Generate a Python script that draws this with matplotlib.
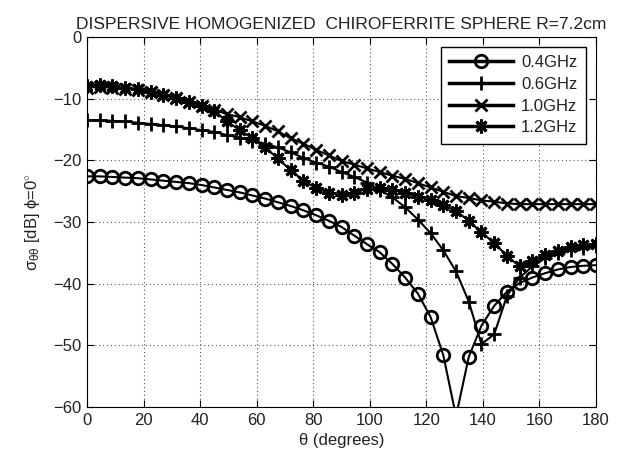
import matplotlib
matplotlib.use("Agg")
import matplotlib.pyplot as plt

theta = [0, 4.5, 9, 13.5, 18, 22.5, 27, 31.5, 36, 40.5, 45, 49.5, 54, 58.5, 63, 67.5,
         72, 76.5, 81, 85.5, 90, 94.5, 99, 103.5, 108, 112.5, 117, 121.5, 126, 130.5,
         135, 139.5, 144, 148.5, 153, 157.5, 162, 166.5, 171, 175.5, 180]

f04 = [-22.6, -22.6, -22.7, -22.8, -22.9, -23.1, -23.3, -23.5, -23.7, -24.0, -24.4,
       -24.8, -25.2, -25.7, -26.2, -26.8, -27.4, -28.1, -28.9, -29.8, -30.8, -32.2,
       -33.6, -34.9, -36.8, -39.0, -41.6, -45.4, -51.6, -61.5, -51.9, -46.8, -43.6,
       -41.3, -39.9, -39.0, -38.3, -37.7, -37.3, -37.1, -37.0]

f06 = [-13.5, -13.5, -13.6, -13.7, -13.9, -14.1, -14.3, -14.5, -14.8, -15.1, -15.4,
       -15.9, -16.3, -16.8, -17.3, -17.9, -18.7, -19.6, -20.4, -21.0, -21.9, -22.7,
       -23.6, -24.8, -26.0, -27.6, -29.6, -31.8, -34.6, -38.0, -42.9, -49.8, -48.2,
       -42.0, -39.0, -37.2, -35.9, -35.1, -34.6, -34.2, -33.9]

f10 = [-8.2, -8.1, -8.2, -8.4, -8.6, -8.9, -9.4, -9.9, -10.5, -11.2, -11.8,
       -12.5, -13.0, -13.7, -14.4, -15.3, -16.4, -17.3, -18.3, -19.2, -20.1, -20.7,
       -21.3, -21.9, -22.5, -23.0, -23.7, -24.4, -25.1, -25.8, -26.1, -26.5, -26.7,
       -27.0, -27.1, -27.1, -27.1, -27.1, -27.1, -27.1, -27.1]

f12 = [-7.9, -7.8, -8.0, -8.3, -8.5, -8.9, -9.4, -9.9, -10.5, -11.2, -12.0,
       -13.7, -15.1, -16.4, -17.9, -19.7, -21.6, -23.3, -24.5, -25.3, -25.6, -25.3,
       -24.6, -24.5, -24.8, -25.3, -25.9, -26.5, -27.3, -28.2, -29.8, -31.7, -33.4,
       -35.5, -37.2, -36.4, -35.4, -34.7, -34.1, -33.7, -33.5]

labels = ["0.4GHz", "0.6GHz", "1.0GHz", "1.2GHz"]
xticks = [0, 20, 40, 60, 80, 100, 120, 140, 160, 180]
yticks = [0, -10, -20, -30, -40, -50, -60]

plt.rcParams['font.family'] = ['Liberation Sans', 'DejaVu Sans']
plt.rcParams['mathtext.fontset'] = 'custom'
plt.rcParams['mathtext.rm'] = 'Liberation Sans'
plt.rcParams['mathtext.it'] = 'Liberation Sans'
plt.rcParams['mathtext.bf'] = 'Liberation Sans:bold'

TXT = '#222222'

fig = plt.figure(figsize=(6.21, 4.57), dpi=100)
ax = fig.add_axes([87/621, 1-407/457, 509/621, 370/457])

series = [f04, f06, f10, f12]
markers = ['o', '+', 'x', (8, 2, 0)]
msizes = [9, 10.5, 8.5, 10]
for vals, lab, m, ms in zip(series, labels, markers, msizes):
    kw = dict(markerfacecolor='none') if m == 'o' else {}
    ax.plot(theta, vals, color='black', lw=1.5, marker=m, ms=ms, mew=2.0,
            label=lab, **kw)

ax.set_xlim(0, 180)
ax.set_ylim(-60, 0)
ax.set_xticks(xticks)
ax.set_yticks(yticks)
ax.tick_params(direction='in', length=5, width=0.8, labelsize=12, colors='black',
               labelcolor=TXT, top=True, right=True, pad=4)
ax.grid(True, color='0.35', linestyle=(0, (1, 2.5)), linewidth=0.8)
for s in ax.spines.values():
    s.set_linewidth(0.8)

ax.set_title("DISPERSIVE HOMOGENIZED  CHIROFERRITE SPHERE R=7.2cm", fontsize=12.5,
             pad=6, color=TXT)
ax.set_xlabel("θ (degrees)", fontsize=12, labelpad=4, color=TXT)
ax.set_ylabel(r"$\sigma_{\theta\theta}$ [dB] ϕ=0$^{\circ}$", fontsize=12, labelpad=8,
              color=TXT)

leg = ax.legend(loc='upper right', bbox_to_anchor=(0.980, 0.973), fontsize=12,
                handlelength=3.8, fancybox=False, framealpha=1, edgecolor='black',
                borderpad=0.5, labelspacing=0.4, handletextpad=0.5, borderaxespad=0)
leg.get_frame().set_linewidth(1.0)
for t in leg.get_texts():
    t.set_color(TXT)
for line in leg.get_lines():
    line.set_linewidth(2.5)

fig.savefig("out.png", dpi=100)
